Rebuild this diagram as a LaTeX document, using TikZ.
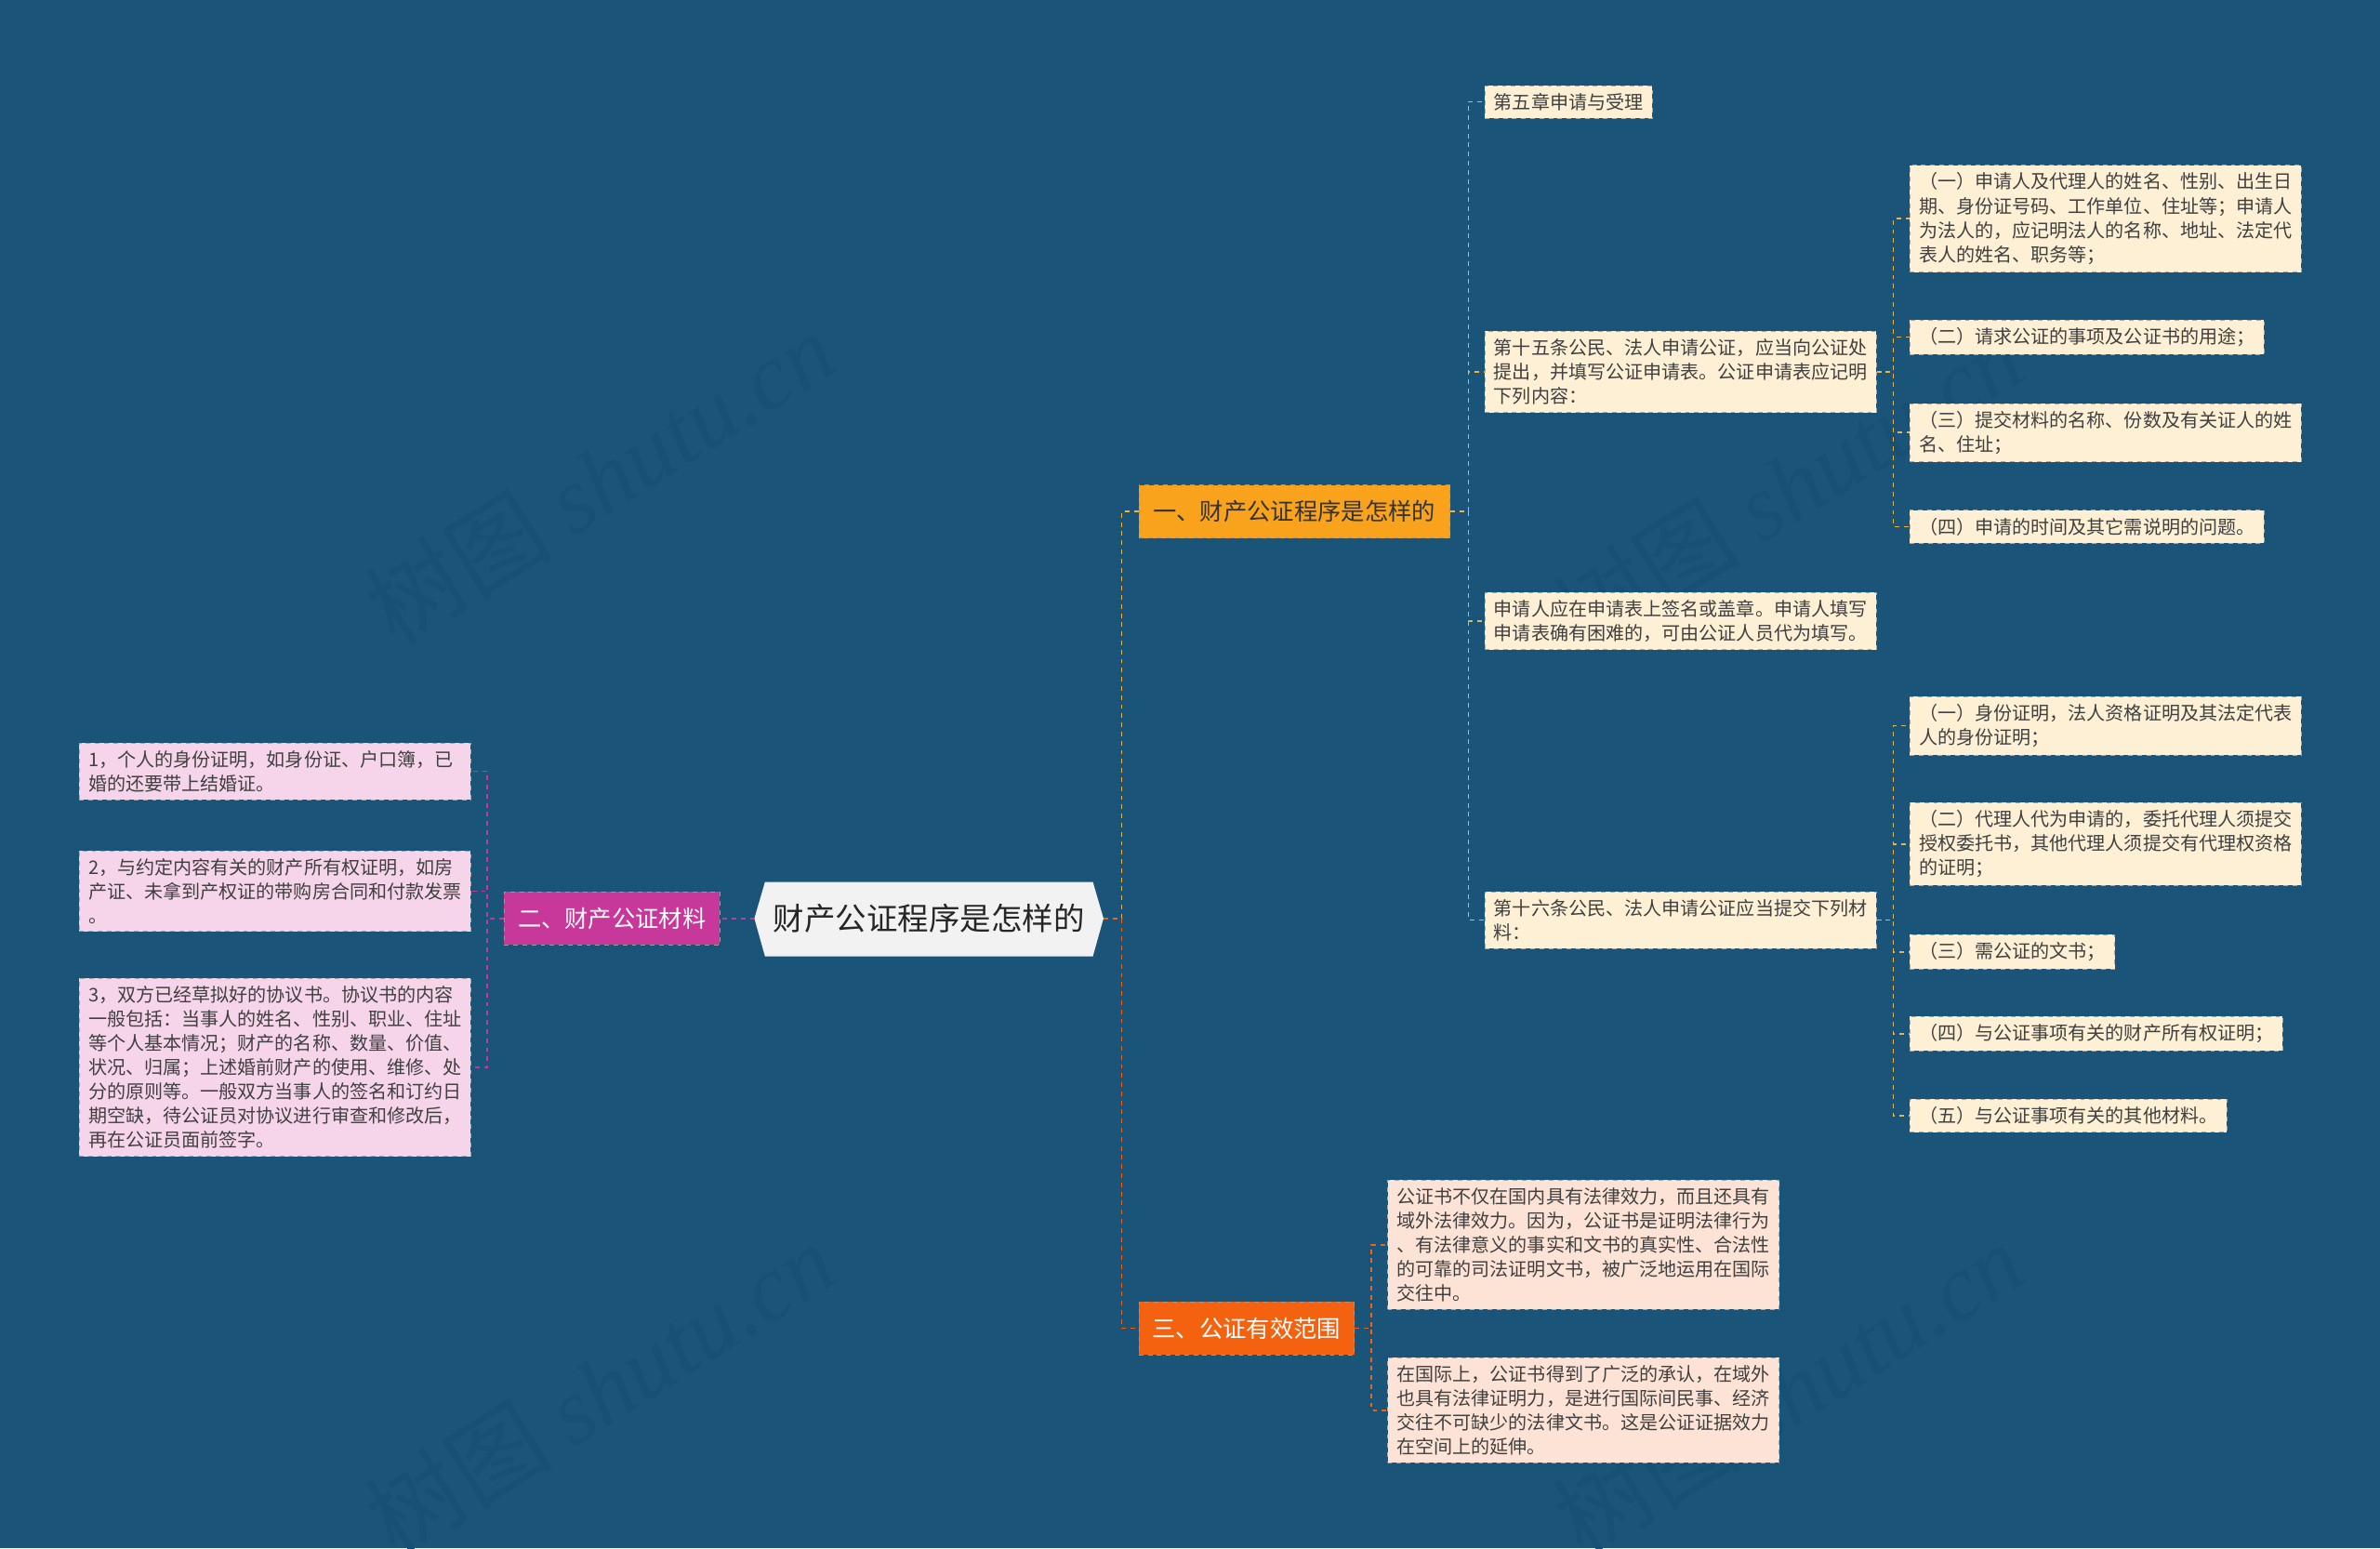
\documentclass[tikz,border=0pt]{standalone}
\usepackage{fontspec}
\setmainfont{Noto Sans CJK SC}
\newfontfamily\wmfont{Liberation Serif}
\usetikzlibrary{calc}
\definecolor{bg}{HTML}{1A5478}
\definecolor{orA}{HTML}{F8A31B}
\definecolor{orB}{HTML}{F5620F}
\definecolor{mag}{HTML}{C8379A}
\definecolor{cream}{HTML}{FDF0D5}
\definecolor{pinkl}{HTML}{F6D5EA}
\definecolor{peach}{HTML}{FDE3D6}
\definecolor{lnA}{HTML}{E9B44C}
\definecolor{wm}{HTML}{175075}
\definecolor{rootc}{HTML}{F2F2F2}
\tikzset{
 leaf/.style={anchor=west,fill=#1,draw=black!35,dashed,line width=0.4pt,inner xsep=6pt,inner ysep=5pt,align=left,font=\fontsize{12.3}{16}\selectfont,text=black!75},
 br/.style={anchor=west,fill=#1,draw=black!40,dashed,line width=0.4pt,inner xsep=8pt,inner ysep=0pt,minimum height=35pt,font=\fontsize{15.5}{18}\selectfont},
 cA/.style={draw=lnA,dashed,line width=1pt},
 cB/.style={draw=orB,dashed,line width=1pt},
 cM/.style={draw=mag,dashed,line width=1pt},
 wmk/.style={text=wm,rotate=32,font=\fontsize{62}{62}\selectfont}
}
\begin{document}
\begin{tikzpicture}[x=1pt,y=-1pt]
\fill[bg] (0,0) rectangle (1568,1020);
\useasboundingbox (0,0) rectangle (1568,1020);
% watermarks
\foreach \p in {(395,315),(395,915),(1178,320),(1178,915)}
  \node[wmk] at \p {树图 {\wmfont\itshape shutu.cn}};
% root
\fill[rootc] (504,581) -- (720,581) -- (727,605) -- (720,630) -- (504,630) -- (497,605) -- cycle;
\node[font=\fontsize{20.5}{24}\selectfont,text=black!85] (root) at (612,605) {财产公证程序是怎样的};
\coordinate (rootE) at (727,605);
\coordinate (rootW) at (497,605);
% branches
\node[br=orA,text=black!80,minimum width=205pt] (b1) at (750,337) {一、财产公证程序是怎样的};
\node[br=mag,text=white,minimum width=142pt] (b2) at (332,605) {二、财产公证材料};
\node[br=orB,text=white,minimum width=142pt] (b3) at (750,875) {三、公证有效范围};
% b1 leaves
\node[leaf=cream] (l1) at (978,67) {第五章申请与受理};
\node[leaf=cream,text width=246pt] (l2) at (978,245) {第十五条公民、法人申请公证，应当向公证处\\提出，并填写公证申请表。公证申请表应记明\\下列内容：};
\node[leaf=cream,text width=246pt] (l3) at (978,409) {申请人应在申请表上签名或盖章。申请人填写\\申请表确有困难的，可由公证人员代为填写。};
\node[leaf=cream,text width=246pt] (l4) at (978,606) {第十六条公民、法人申请公证应当提交下列材\\料：};
% l2 children
\node[leaf=cream,text width=246pt] (a1) at (1258,144) {（一）申请人及代理人的姓名、性别、出生日\\期、身份证号码、工作单位、住址等；申请人\\为法人的，应记明法人的名称、地址、法定代\\表人的姓名、职务等；};
\node[leaf=cream] (a2) at (1258,222) {（二）请求公证的事项及公证书的用途；};
\node[leaf=cream,text width=246pt] (a3) at (1258,285) {（三）提交材料的名称、份数及有关证人的姓\\名、住址；};
\node[leaf=cream] (a4) at (1258,347) {（四）申请的时间及其它需说明的问题。};
% l4 children
\node[leaf=cream,text width=246pt] (c1) at (1258,478) {（一）身份证明，法人资格证明及其法定代表\\人的身份证明；};
\node[leaf=cream,text width=246pt] (c2) at (1258,556) {（二）代理人代为申请的，委托代理人须提交\\授权委托书，其他代理人须提交有代理权资格\\的证明；};
\node[leaf=cream] (c3) at (1258,627) {（三）需公证的文书；};
\node[leaf=cream] (c4) at (1258,681) {（四）与公证事项有关的财产所有权证明；};
\node[leaf=cream] (c5) at (1258,735) {（五）与公证事项有关的其他材料。};
% b2 children
\node[leaf=pinkl,text width=246pt] (m1) at (52,508) {1，个人的身份证明，如身份证、户口簿，已\\婚的还要带上结婚证。};
\node[leaf=pinkl,text width=246pt] (m2) at (52,587) {2，与约定内容有关的财产所有权证明，如房\\产证、未拿到产权证的带购房合同和付款发票\\。};
\node[leaf=pinkl,text width=246pt] (m3) at (52,703) {3，双方已经草拟好的协议书。协议书的内容\\一般包括：当事人的姓名、性别、职业、住址\\等个人基本情况；财产的名称、数量、价值、\\状况、归属；上述婚前财产的使用、维修、处\\分的原则等。一般双方当事人的签名和订约日\\期空缺，待公证员对协议进行审查和修改后，\\再在公证员面前签字。};
% b3 children
\node[leaf=peach,text width=246pt] (p1) at (914,820) {公证书不仅在国内具有法律效力，而且还具有\\域外法律效力。因为，公证书是证明法律行为\\、有法律意义的事实和文书的真实性、合法性\\的可靠的司法证明文书，被广泛地运用在国际\\交往中。};
\node[leaf=peach,text width=246pt] (p2) at (914,929) {在国际上，公证书得到了广泛的承认，在域外\\也具有法律证明力，是进行国际间民事、经济\\交往不可缺少的法律文书。这是公证证据效力\\在空间上的延伸。};
% connectors
\draw[cA] (rootE) -- ++(12,0) |- (b1.west);
\draw[cB] (rootE) -- ++(12,0) |- (b3.west);
\draw[cM] (rootW) -- (b2.east);
\foreach \n in {m1,m2,m3} \draw[cM] (b2.west) -- ++(-11,0) |- (\n.east);
\foreach \n in {l1,l2,l3,l4} \draw[cA] (b1.east) -- ++(12,0) |- (\n.west);
\foreach \n in {a1,a2,a3,a4} \draw[cA] (l2.east) -- ++(11,0) |- (\n.west);
\foreach \n in {c1,c2,c3,c4,c5} \draw[cA] (l4.east) -- ++(11,0) |- (\n.west);
\foreach \n in {p1,p2} \draw[cB] (b3.east) -- ++(11,0) |- (\n.west);
\end{tikzpicture}
\end{document}
